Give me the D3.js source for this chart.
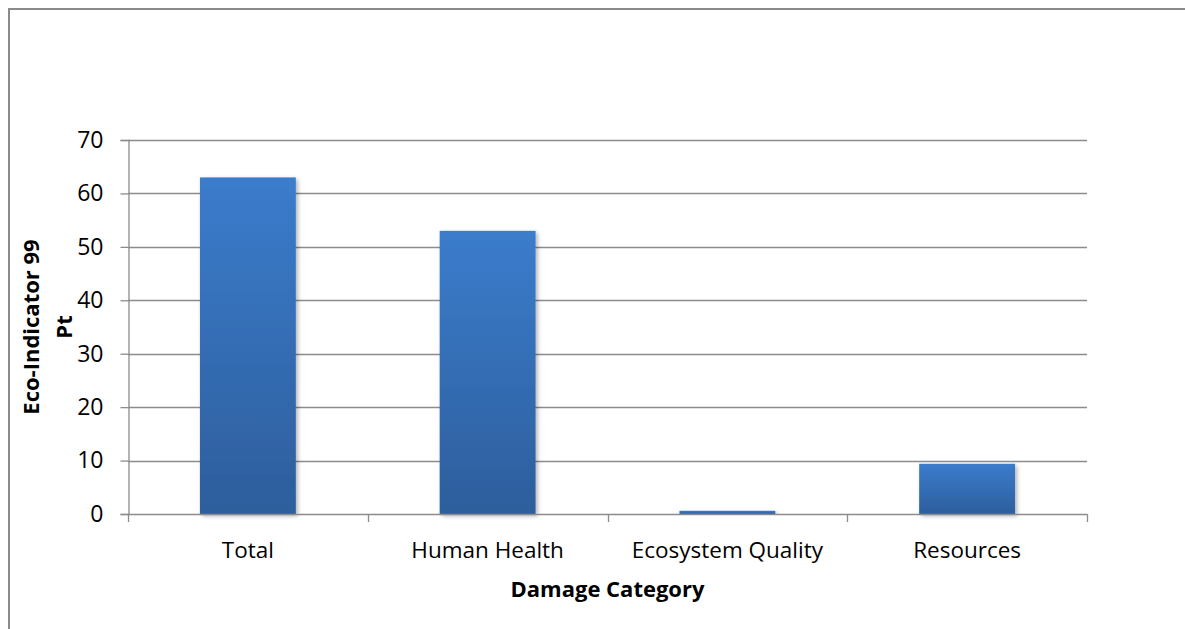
<!DOCTYPE html>
<html>
<head>
<meta charset="utf-8">
<script src="https://cdn.jsdelivr.net/npm/d3@7"></script>
<style>
  html, body { margin: 0; padding: 0; background: #fff; }
  svg { display: block; }
  text { font-family: "Open Sans", "DejaVu Sans", sans-serif; fill: #000; }
</style>
</head>
<body>
<svg id="chart" width="1185" height="629"></svg>
<script>
// Eco-Indicator 99 scores per damage category
const categories = ["Total", "Human Health", "Ecosystem Quality", "Resources"];
const values = [63.0, 53.0, 0.6, 9.4];
const yTicks = [0, 10, 20, 30, 40, 50, 60, 70];
const xTitle = "Damage Category";
const yTitleLines = ["Eco-Indicator 99", "Pt"];

const svg = d3.select("#chart");
const W = 1185, H = 629;
const plot = { left: 128, right: 1087, top: 140, bottom: 514 };

// outer chart frame (continues past the right and bottom edges)
svg.append("rect")
  .attr("x", 9).attr("y", 9)
  .attr("width", W + 20).attr("height", H + 20)
  .attr("fill", "none").attr("stroke", "#8a8a8a").attr("stroke-width", 2);

const defs = svg.append("defs");
const grad = defs.append("linearGradient")
  .attr("id", "barFill").attr("x1", 0).attr("y1", 0).attr("x2", 0).attr("y2", 1);
grad.append("stop").attr("offset", "0%").attr("stop-color", "#3b7ccc");
grad.append("stop").attr("offset", "100%").attr("stop-color", "#2d5e9c");

const shadow = defs.append("filter").attr("id", "barShadow")
  .attr("x", "-20%").attr("y", "-20%").attr("width", "140%").attr("height", "140%");
shadow.append("feDropShadow")
  .attr("dx", 2).attr("dy", 2).attr("stdDeviation", 2)
  .attr("flood-color", "#000").attr("flood-opacity", 0.3);

const x = d3.scaleBand()
  .domain(categories)
  .range([plot.left, plot.right])
  .paddingInner(0.6)
  .paddingOuter(0.3);

const y = d3.scaleLinear()
  .domain([0, 70])
  .range([plot.bottom, plot.top]);

// horizontal gridlines
svg.append("g")
  .selectAll("line")
  .data(yTicks.filter(d => d > 0))
  .join("line")
  .attr("x1", plot.left).attr("x2", plot.right)
  .attr("y1", d => Math.round(y(d)) + 0.5).attr("y2", d => Math.round(y(d)) + 0.5)
  .attr("stroke", "#8c8c8c").attr("stroke-width", 1.3);

// value axis
const yAxis = svg.append("g")
  .attr("transform", `translate(${plot.left + 0.5},0)`)
  .call(d3.axisLeft(y).tickValues(yTicks).tickSize(8).tickPadding(17).tickFormat(d3.format("d")));
yAxis.select(".domain").attr("stroke", "#8c8c8c").attr("stroke-width", 1.3);
yAxis.selectAll(".tick line").attr("stroke", "#8c8c8c").attr("stroke-width", 1.3);
yAxis.selectAll(".tick text")
  .attr("font-size", 23).attr("fill", "#000")
  .style("font-family", "'Open Sans', sans-serif");

// bars
svg.append("g")
  .selectAll("rect")
  .data(categories.map((c, i) => ({ c, v: values[i] })))
  .join("rect")
  .attr("x", d => x(d.c))
  .attr("y", d => y(d.v))
  .attr("width", x.bandwidth())
  .attr("height", d => y(0) - y(d.v))
  .attr("fill", "url(#barFill)")
  .attr("filter", "url(#barShadow)");

// category axis with boundary ticks
const xAxisG = svg.append("g");
xAxisG.append("line")
  .attr("x1", plot.left).attr("x2", plot.right)
  .attr("y1", plot.bottom + 0.5).attr("y2", plot.bottom + 0.5)
  .attr("stroke", "#8c8c8c").attr("stroke-width", 1.3);
const boundaries = d3.range(categories.length + 1).map(i => plot.left + i * (plot.right - plot.left) / categories.length);
xAxisG.selectAll("line.b")
  .data(boundaries)
  .join("line")
  .attr("class", "b")
  .attr("x1", d => Math.round(d) + 0.5).attr("x2", d => Math.round(d) + 0.5)
  .attr("y1", plot.bottom).attr("y2", plot.bottom + 8)
  .attr("stroke", "#8c8c8c").attr("stroke-width", 1.3);
xAxisG.selectAll("text")
  .data(categories)
  .join("text")
  .attr("x", d => x(d) + x.bandwidth() / 2)
  .attr("y", 558)
  .attr("text-anchor", "middle")
  .attr("font-size", 22.5)
  .text(d => d);

// axis titles
svg.append("text")
  .attr("x", (plot.left + plot.right) / 2)
  .attr("y", 597)
  .attr("text-anchor", "middle")
  .attr("font-size", 22)
  .attr("font-weight", "bold")
  .text(xTitle);

const yTitle = svg.append("text")
  .attr("transform", "translate(39,327) rotate(-90)")
  .attr("text-anchor", "middle")
  .attr("font-size", 22)
  .attr("font-weight", "bold");
yTitleLines.forEach((t, i) => {
  yTitle.append("tspan")
    .attr("x", 0)
    .attr("y", i * 33)
    .text(t);
});
</script>
</body>
</html>
